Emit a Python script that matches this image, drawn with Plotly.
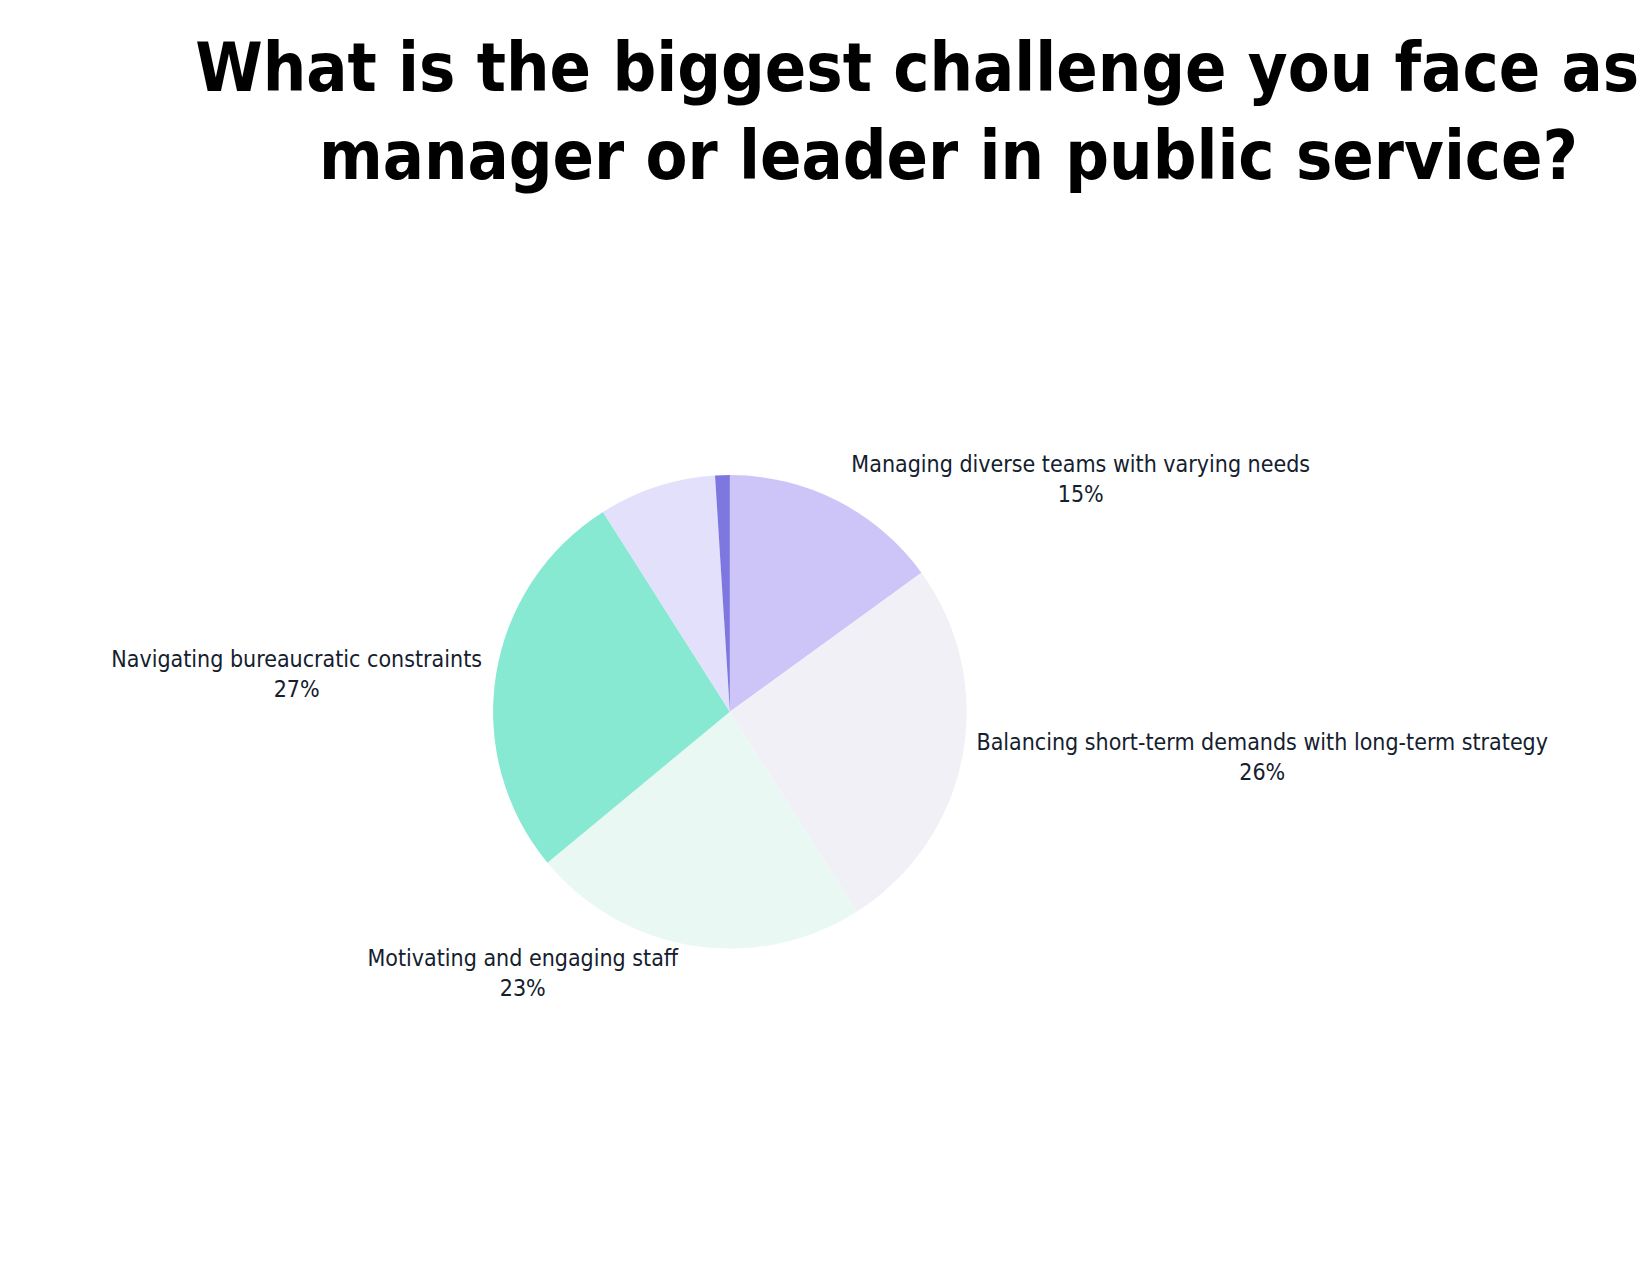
import plotly.graph_objects as go

labels = ["Managing diverse teams with varying needs",
          "Balancing short-term demands with long-term strategy",
          "Motivating and engaging staff",
          "Navigating bureaucratic constraints",
          "Other", "No answer"]
values = [15, 26, 23, 27, 8, 1]
shown = [True, True, True, True, False, False]
colors = ["#cdc5f8", "#f2f0f7", "#eaf8f3", "#88e9d3", "#e2e0fa", "#7f77e0"]

texts = [f"{l}<br>{v}%" if s else "" for l, v, s in zip(labels, values, shown)]
FONT = "DejaVu Sans Condensed, Liberation Sans Narrow, Roboto, sans-serif"

fig = go.Figure(go.Pie(
    labels=labels, values=values, sort=False, direction="clockwise", rotation=0,
    marker=dict(colors=colors, line=dict(width=0)),
    text=texts, textinfo="text", textposition="outside",
    textfont=dict(family=FONT, size=23, color="#14202e"),
    domain=dict(x=[0.294, 0.581], y=[0.262, 0.634]),
    showlegend=False, hoverinfo="label+percent",
))
fig.update_layout(
    width=1650, height=1275, paper_bgcolor="white", plot_bgcolor="white",
    margin=dict(l=0, r=0, t=0, b=0),
    title=dict(text="<b>What is the biggest challenge you face as a<br>manager or leader in public service?</b>",
               x=0.57, xanchor="center", y=0.935, yanchor="top",
               font=dict(family=FONT, size=68, color="#000")),
)
fig.write_html("out.html")
